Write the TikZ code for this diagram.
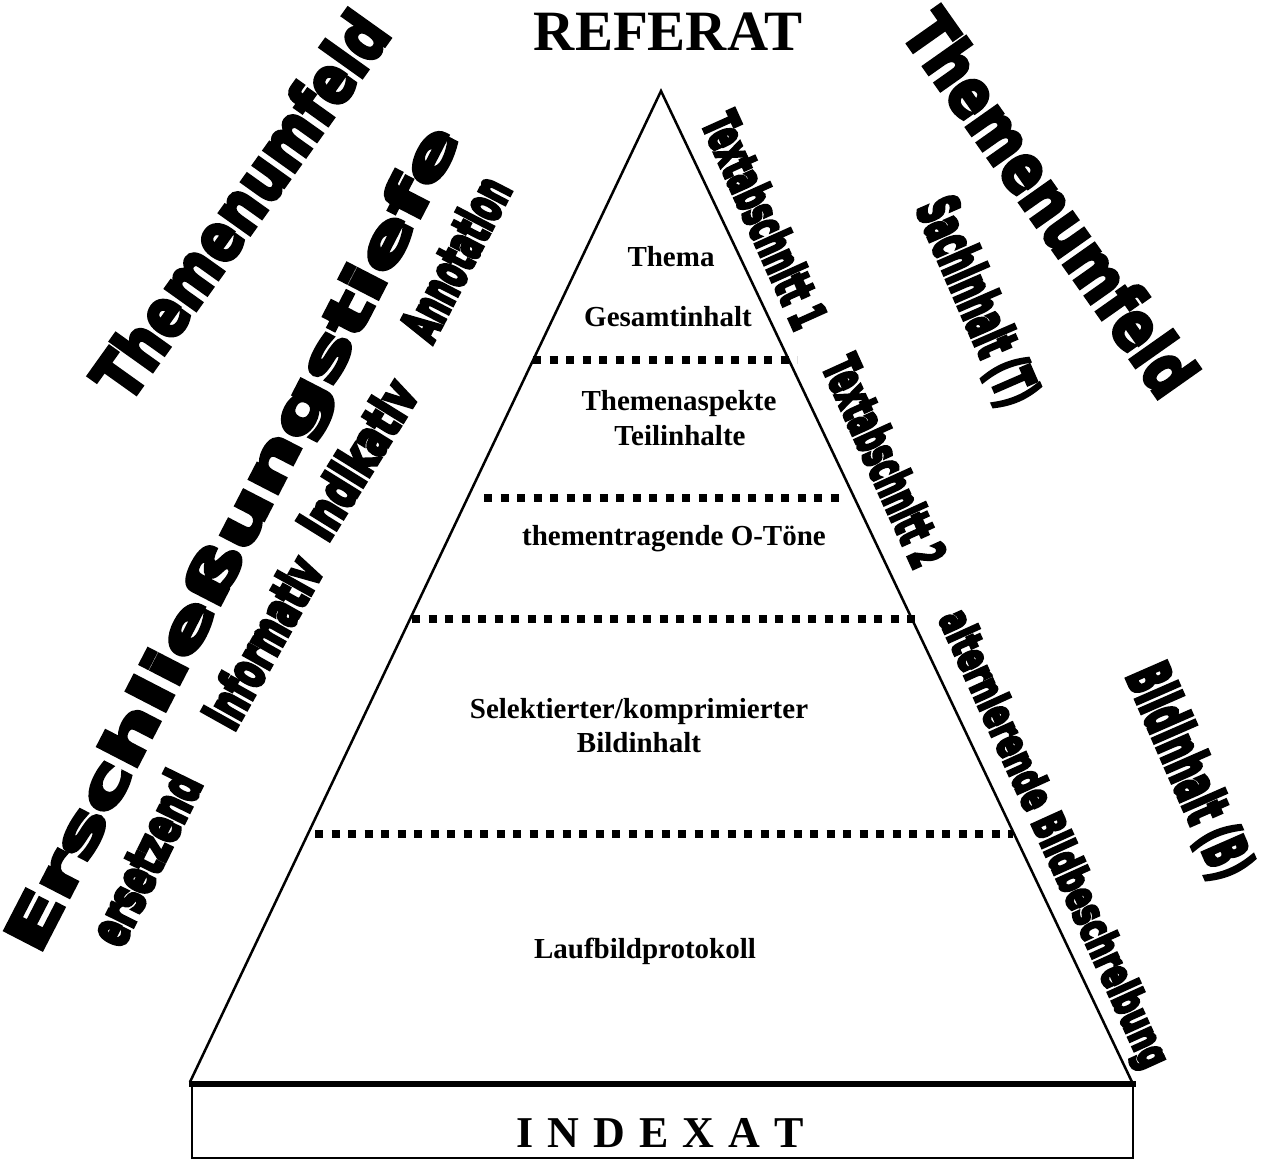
\documentclass[tikz,border=0pt]{standalone}
\usepackage{fontspec}
\usepackage{graphicx}
\setmainfont{Liberation Serif}
\newfontfamily\wafontA[BoldFeatures={FakeBold=6}]{DejaVu Sans}
\newfontfamily\wafontB[BoldFeatures={FakeBold=8}]{DejaVu Sans}
\newcommand\wart[3]{\resizebox*{#1pt}{#2pt}{\wafontB\bfseries #3}}
\newcommand\wartw[3]{\resizebox*{#1pt}{#2pt}{\wafontA\bfseries #3}}
\begin{document}
\begin{tikzpicture}[x=1pt,y=-1pt,
  lbl/.style={font=\fontsize{29}{32}\selectfont\bfseries, inner sep=0pt, anchor=base},
  art/.style={inner sep=0pt},
  dotline/.style={line width=8pt, dash pattern=on 8pt off 8.5pt},
  pyredge/.style={line width=2.5pt, line join=miter}]
\useasboundingbox (0,0) rectangle (1268,1162);
% pyramid
\coordinate (apex) at (661,91);
\coordinate (bl) at (190,1082);
\coordinate (br) at (1132,1082);
\draw[pyredge] (bl) -- (apex) -- (br);
% index box
\coordinate (b1) at (192,1084);
\coordinate (b2) at (192,1158);
\coordinate (b3) at (1133,1158);
\coordinate (b4) at (1133,1084);
\draw[line width=2.5pt] (b1) -- (b2) -- (b3) -- (b4);
\draw[line width=6pt] (189,1084) -- (1136,1084);
% dotted separators
\draw[dotline] (533,360) -- (797,360);
\draw[dotline] (484,498) -- (845,498);
\draw[dotline] (412,619) -- (915,619);
\draw[dotline] (315,834) -- (1013,834);
% titles
\node[inner sep=0pt, anchor=base, font=\fontsize{57}{60}\selectfont\bfseries] (referat) at (668,50) {REFERAT};
\node[inner sep=0pt, anchor=base, font=\fontsize{44}{48}\selectfont\bfseries] (indexat) at (660,1147) {I\kern14pt N\kern14pt D\kern14pt E\kern14pt X\kern14pt A\kern14pt T};
% pyramid labels
\node[lbl] (thema) at (671,266) {Thema};
\node[lbl] (gesamt) at (668,326) {Gesamtinhalt};
\node[lbl] (aspekte) at (679,410) {Themenaspekte};
\node[lbl] (teil) at (680,445) {Teilinhalte};
\node[lbl] (otone) at (674,545) {thementragende O-Töne};
\node[lbl] (selekt) at (639,718) {Selektierter/komprimierter};
\node[lbl] (bildinh) at (639,752) {Bildinhalt};
\node[lbl] (lauf) at (645,958) {Laufbildprotokoll};
% word art, left side
\node[art, rotate=54.5] (tfl) at (240,205) {\wartw{455}{52}{Themenumfeld}};
\node[art, rotate=62.7] (ers) at (236,540) {\wartw{920}{56}{Erschließungstiefe}};
\node[art, rotate=63.9] (ersetz) at (145,858) {\wart{185}{40}{ersetzend}};
\node[art, rotate=60.8] (inform) at (262,642) {\wart{186}{40}{Informativ}};
\node[art, rotate=58.2] (indik) at (357,459) {\wart{175}{40}{Indikativ}};
\node[art, rotate=62.6] (annot) at (455,258) {\wart{175}{40}{Annotation}};
% word art, right side
\node[art, rotate=-54.8] (tfr) at (1051,203) {\wartw{452}{52}{Themenumfeld}};
\node[art, rotate=-66.5] (sach) at (976,302) {\wart{220}{50}{Sachinhalt (T)}};
\node[art, rotate=-65.8] (ta1) at (765,220) {\wart{230}{38}{Textabschnitt 1}};
\node[art, rotate=-65.6] (ta2) at (885,461) {\wart{225}{38}{Textabschnitt 2}};
\node[art, rotate=-65.6] (alt) at (1052,840) {\wart{497}{42}{alternierende Bildbeschreibung}};
\node[art, rotate=-66.4] (bildb) at (1188,772) {\wart{227}{52}{Bildinhalt (B)}};
\end{tikzpicture}
\end{document}
